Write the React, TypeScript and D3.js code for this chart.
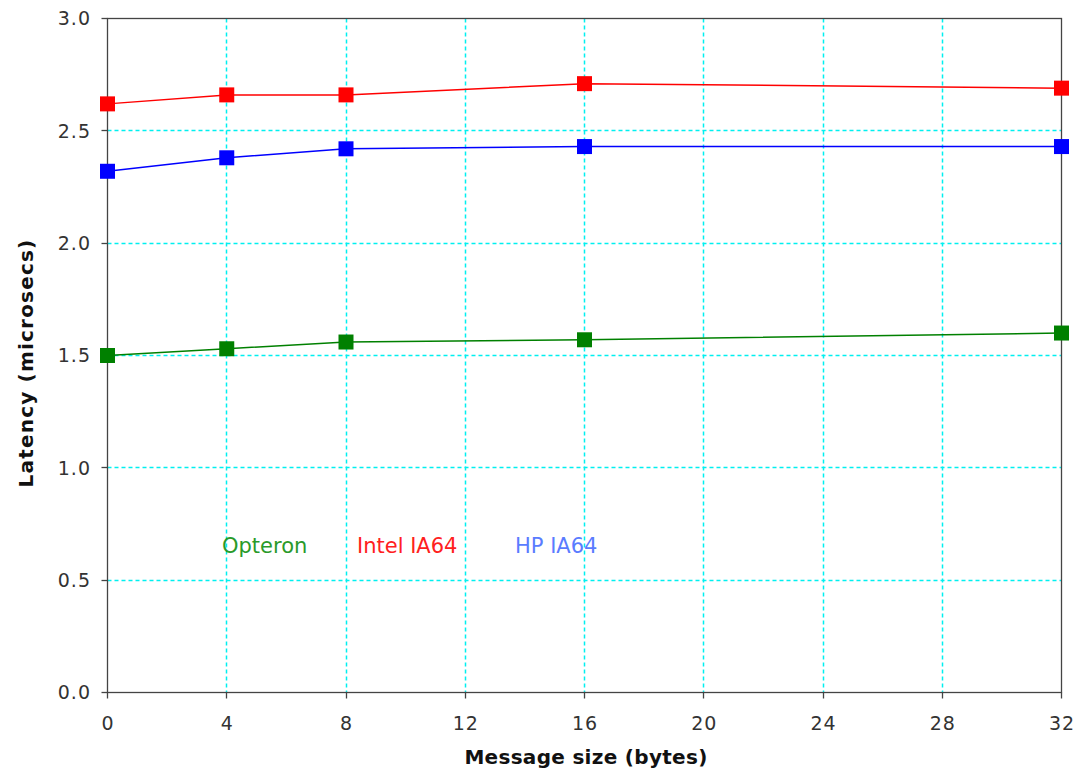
import React from "react";
import * as d3 from "d3";

const xValues = [0, 4, 8, 16, 32];
const opteron = [1.5, 1.53, 1.56, 1.57, 1.6];
const intel = [2.62, 2.66, 2.66, 2.71, 2.69];
const hp = [2.32, 2.38, 2.42, 2.43, 2.43];
const xTicks = [0, 4, 8, 12, 16, 20, 24, 28, 32];
const yTicks = [0, 0.5, 1.0, 1.5, 2.0, 2.5, 3.0];

const seriesNames = ["Opteron", "Intel IA64", "HP IA64"];
const seriesData = [opteron, intel, hp];
const lineColors = ["#008000", "#ff0000", "#0000ff"];
const legendColors = ["#2a9a2a", "#ff2020", "#5a7cff"];

export default function App() {
  const W = 1077, H = 775;
  const left = 107.5, right = 1061.5, top = 18.5, bottom = 692.5;
  const x = d3.scaleLinear().domain([0, 32]).range([left, right]);
  const y = d3.scaleLinear().domain([0, 3]).range([bottom, top]);
  const px = (v: number) => Math.floor(v) + 0.5;
  const line = d3.line<number>().x((_, i) => x(xValues[i])).y(d => y(d));
  const font = "Verdana, 'DejaVu Sans', sans-serif";
  const legendX = [222, 357, 515];
  const ms = 15;
  const gridColor = "#00f0f0";

  return (
    <svg width={W} height={H} style={{ position: "absolute", left: 0, top: 0 }}>
      <rect width={W} height={H} fill="#fff" />
      {xTicks.filter(t => t > 0 && t < 32).map(t => (
        <line key={"gx" + t} x1={px(x(t))} x2={px(x(t))} y1={top} y2={bottom} stroke={gridColor} strokeWidth={1.5} strokeDasharray="4,3" />
      ))}
      {yTicks.filter(t => t > 0 && t < 3).map(t => (
        <line key={"gy" + t} x1={left} x2={right} y1={px(y(t))} y2={px(y(t))} stroke={gridColor} strokeWidth={1.5} strokeDasharray="4,3" />
      ))}
      <rect x={left} y={top} width={right - left} height={bottom - top} fill="none" stroke="#444" strokeWidth={1.3} />
      {yTicks.map(t => (
        <g key={"yt" + t}>
          <line x1={left - 6} x2={left} y1={px(y(t))} y2={px(y(t))} stroke="#444" strokeWidth={1.3} />
          <text x={91} y={y(t)} dy="0.36em" textAnchor="end" fontFamily={font} fontSize={19} letterSpacing={1} fill="#333">{t.toFixed(1)}</text>
        </g>
      ))}
      {xTicks.map(t => (
        <g key={"xt" + t}>
          <line x1={px(x(t))} x2={px(x(t))} y1={bottom} y2={bottom + 6} stroke="#444" strokeWidth={1.3} />
          <text x={x(t) + 0.5} y={730} textAnchor="middle" fontFamily={font} fontSize={19} letterSpacing={1} fill="#333">{t}</text>
        </g>
      ))}
      <text x={586} y={764} textAnchor="middle" fontFamily={font} fontSize={20} letterSpacing={0.3} fontWeight="bold" fill="#111">Message size (bytes)</text>
      <text transform={`translate(33,363) rotate(-90)`} textAnchor="middle" fontFamily={font} fontSize={20} letterSpacing={1.2} fontWeight="bold" fill="#111">Latency (microsecs)</text>
      {seriesData.map((s, k) => (
        <g key={"s" + k}>
          <path d={line(s) || ""} fill="none" stroke={lineColors[k]} strokeWidth={1.5} />
          {s.map((v, i) => (
            <rect key={i} x={x(xValues[i]) - ms / 2} y={y(v) - ms / 2} width={ms} height={ms} fill={lineColors[k]} />
          ))}
        </g>
      ))}
      {seriesNames.map((n, k) => (
        <text key={"l" + k} x={legendX[k]} y={553} fontFamily={font} fontSize={21} fill={legendColors[k]}>{n}</text>
      ))}
    </svg>
  );
}
